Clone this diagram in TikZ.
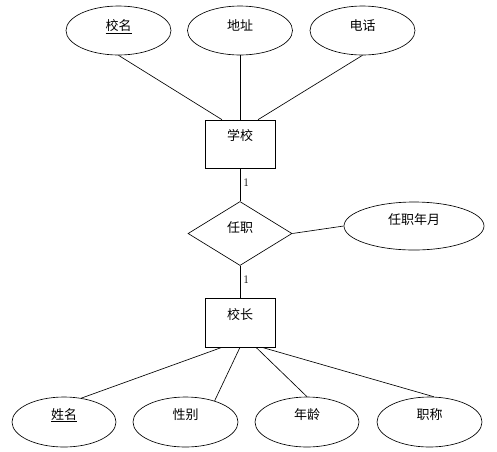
\documentclass[tikz,border=0pt]{standalone}
\usepackage{fontspec}
\newfontfamily\cjk{Noto Sans CJK SC}
\usetikzlibrary{shapes.geometric}
\begin{document}
\begin{tikzpicture}[x=1pt,y=-1pt,
  every node/.style={font=\cjk\fontsize{13}{13}\selectfont},
  attr/.style={draw, ellipse, line width=0.65pt, minimum width=105pt, minimum height=49pt, inner sep=0pt, text height=10pt, text depth=10pt},
  attrbot/.style={attr, text height=10pt, text depth=16pt},
  ent/.style={draw, rectangle, line width=0.65pt, minimum width=70pt, minimum height=48pt, inner sep=0pt},
  rel/.style={draw, diamond, line width=0.65pt, minimum width=104pt, minimum height=64pt, inner sep=0pt, aspect=1.625, text height=10pt, text depth=12pt},
  conn/.style={line width=0.65pt},
  card/.style={font=\fontsize{11.5}{11.5}\selectfont, inner sep=0pt}
]
\useasboundingbox (0,0) rectangle (497,451);
% top attributes
\node[attr] (xm) at (118.5,30.5) {\underline{校名}};
\node[attr] (dz) at (240,30.5) {地址};
\node[attr] (dh) at (362.5,30.5) {电话};
% entity school
\node[ent, text height=10pt, text depth=18pt] (xx) at (240,144) {学校};
% relation
\node[rel] (rz) at (240,233.5) {任职};
\node[attr, minimum width=140pt, minimum height=48pt, text height=10pt, text depth=14pt] (rzny) at (414,226) {任职年月};
% entity principal
\node[ent, minimum height=49pt, text height=10pt, text depth=17pt] (xz) at (240,322.5) {校长};
% bottom attributes
\node[attrbot, minimum width=104pt, minimum height=50pt] (xmg) at (64,422) {\underline{姓名}};
\node[attrbot, minimum width=105pt, minimum height=50pt] (xb) at (185.5,422) {性别};
\node[attrbot, minimum width=104pt, minimum height=50pt] (nl) at (307,422) {年龄};
\node[attrbot, minimum width=105pt, minimum height=50pt] (zc) at (429.5,422) {职称};
% connectors
\draw[conn] (xm.south) -- ([xshift=-18pt]xx.north);
\draw[conn] (dz.south) -- (xx.north);
\draw[conn] (dh.south) -- ([xshift=18pt]xx.north);
\draw[conn] (xx.south) -- node[card, right=3pt, pos=0.45] (c1) {1} (rz.north);
\draw[conn] (rz.east) -- (rzny.west);
\draw[conn] (rz.south) -- node[card, right=3pt, pos=0.42] (c2) {1} (xz.north);
\draw[conn] ([xshift=-18pt]xz.south) -- (xmg.54);
\draw[conn] (xz.south) -- (xb.36);
\draw[conn] ([xshift=16pt]xz.south) -- (nl.north);
\draw[conn] ([xshift=22pt]xz.south) -- (zc.80);
\end{tikzpicture}
\end{document}
